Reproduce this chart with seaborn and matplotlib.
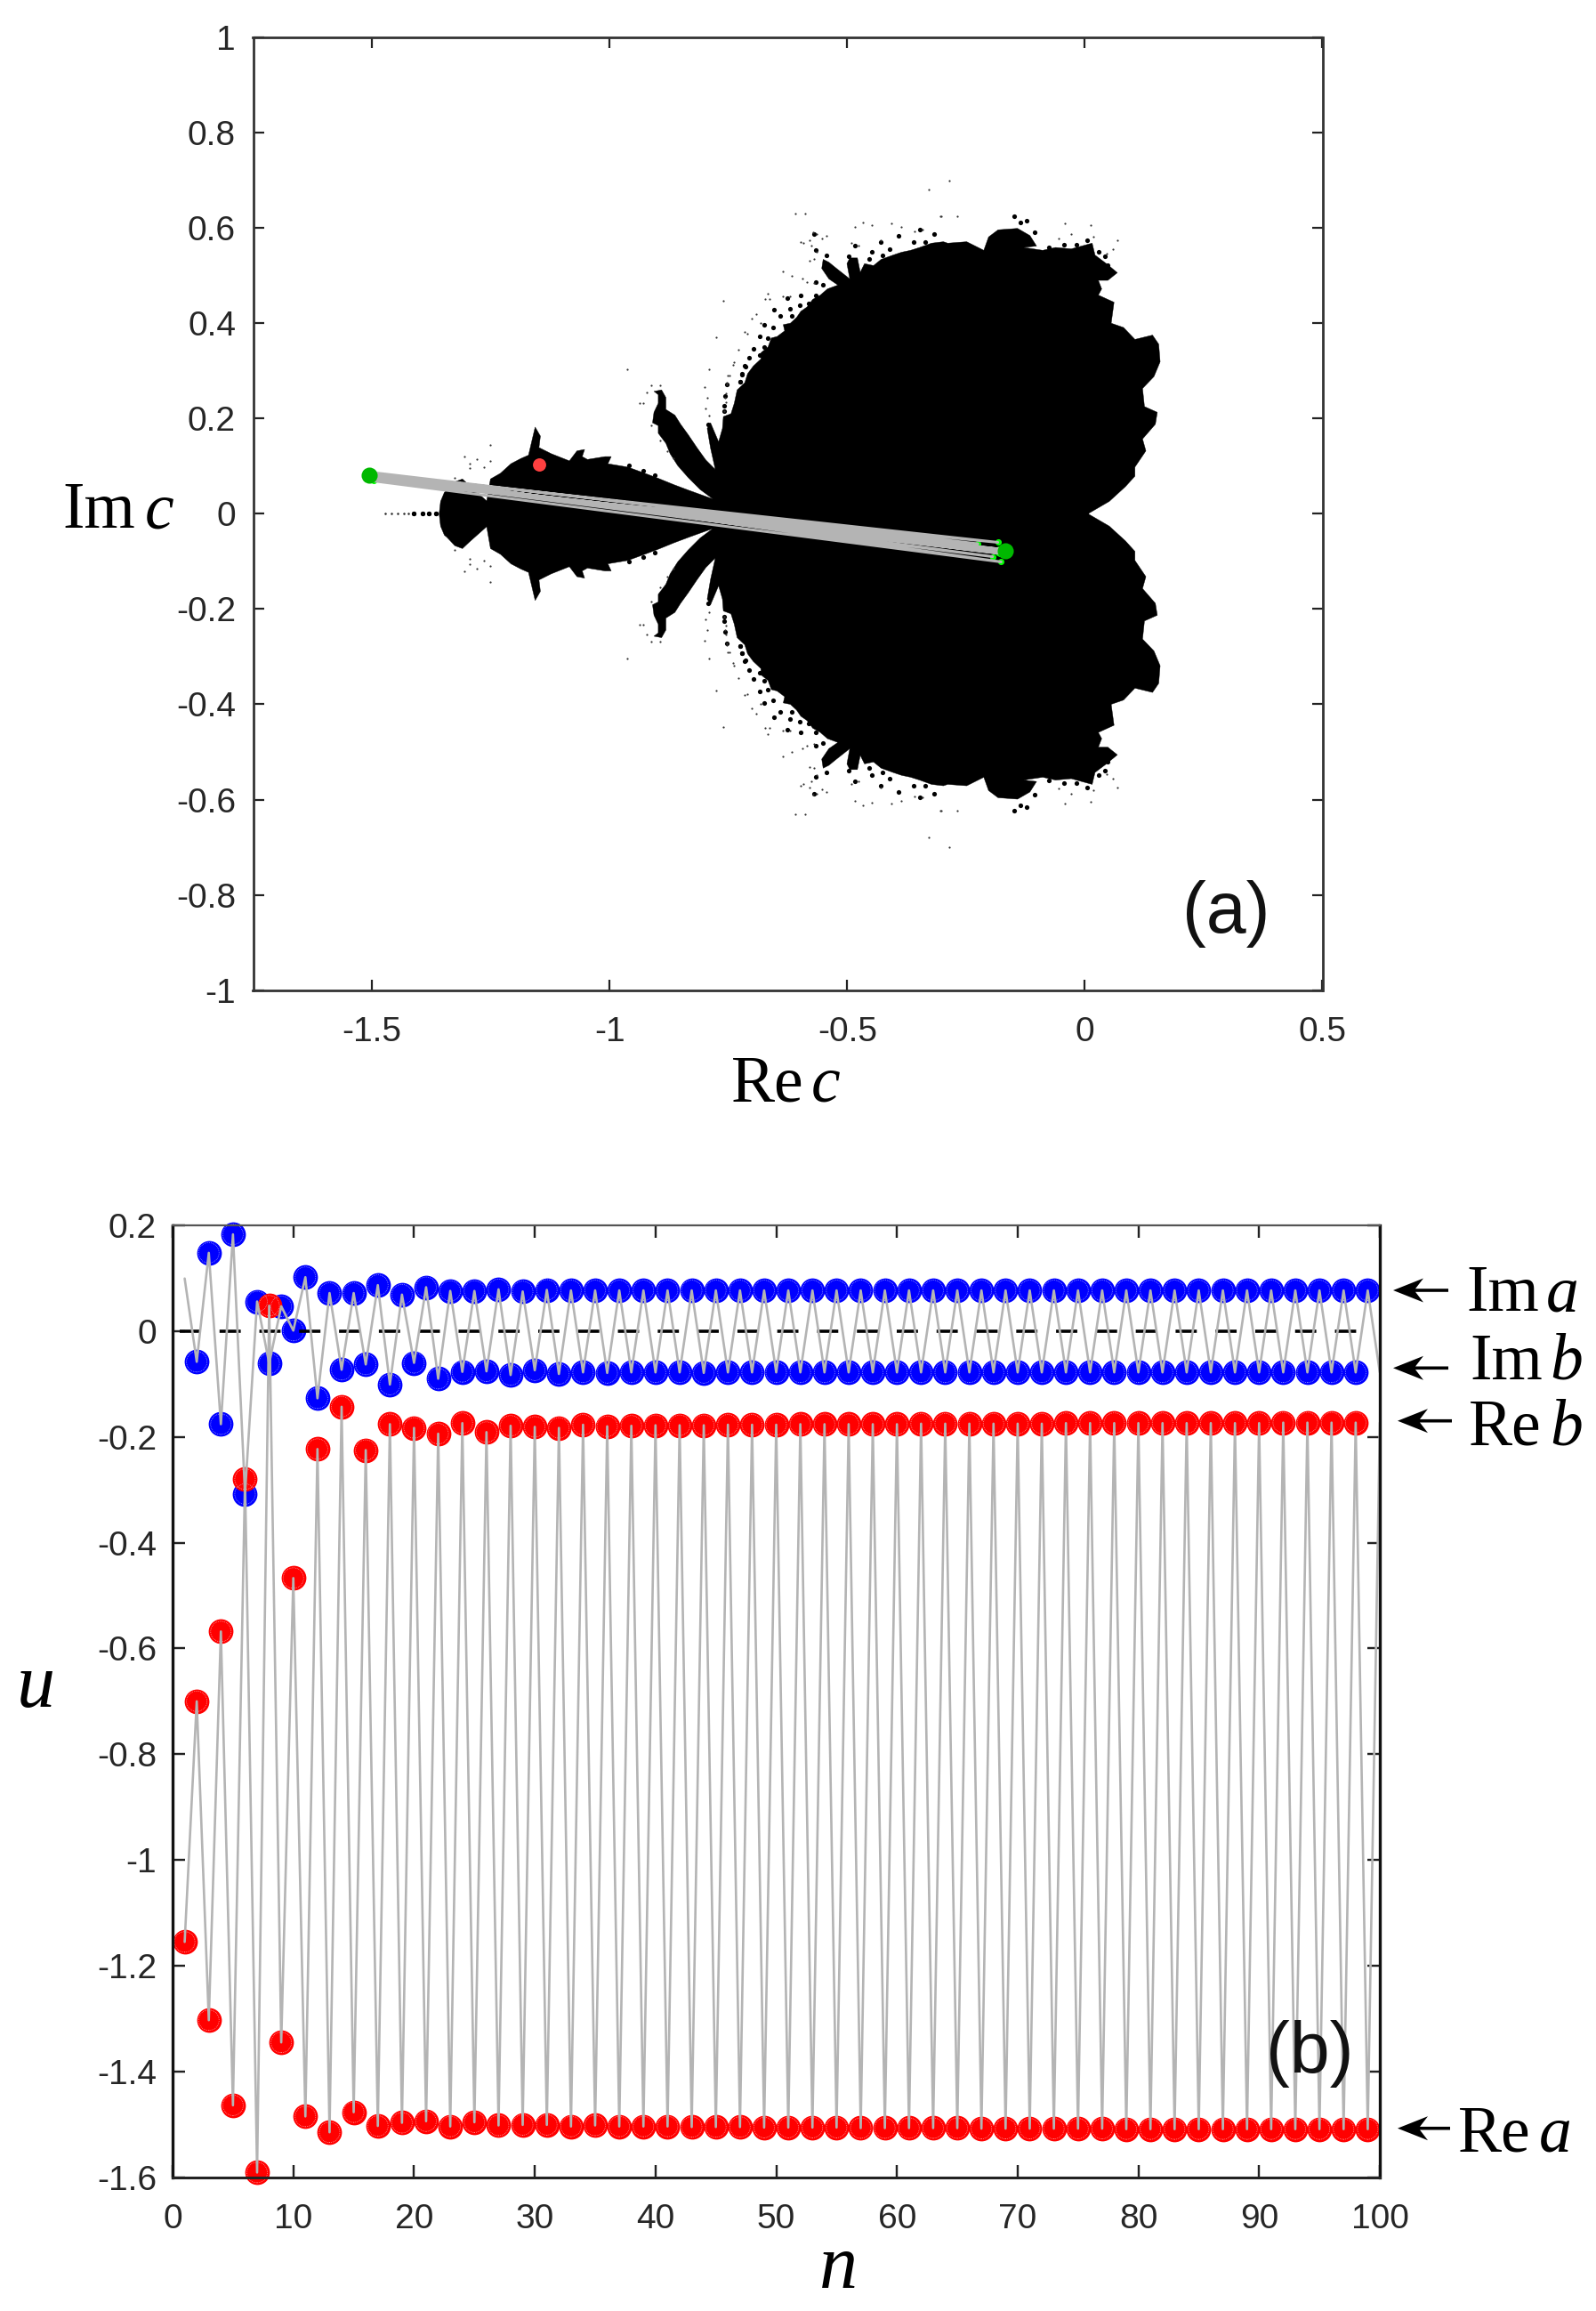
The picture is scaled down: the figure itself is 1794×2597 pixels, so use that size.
import numpy as np
import pandas as pd
import matplotlib
matplotlib.use('Agg')
import matplotlib.pyplot as plt
from matplotlib.patches import Polygon
import seaborn as sns

# --- upper half of the black set (mirrored below the axis)
outline_re = [-1.365, -1.362, -1.354, -1.349, -1.332, -1.316, -1.300, -1.265, -1.257, -1.236, -1.214, -1.193, -1.177,
              -1.169, -1.163, -1.152, -1.155, -1.129, -1.091, -1.075, -1.059, -1.064, -1.053, -1.016, -1.003, -1.010,
              -0.968, -0.935, -0.903, -0.871, -0.839, -0.789, -0.816, -0.841, -0.863, -0.879, -0.888, -0.904, -0.904,
              -0.916, -0.913, -0.904, -0.904, -0.913, -0.897, -0.888, -0.888, -0.869, -0.857, -0.841, -0.822, -0.804,
              -0.784, -0.794, -0.801, -0.794, -0.777, -0.769, -0.767, -0.751, -0.744, -0.738, -0.722, -0.716, -0.704,
              -0.688, -0.688, -0.673, -0.666, -0.654, -0.638, -0.641, -0.626, -0.613, -0.604, -0.591, -0.579, -0.563,
              -0.548, -0.526, -0.545, -0.560, -0.557, -0.545, -0.529, -0.501, -0.507, -0.501, -0.485, -0.479, -0.470,
              -0.451, -0.435, -0.410, -0.392, -0.373, -0.354, -0.329, -0.304, -0.295, -0.255, -0.219, -0.209,
              -0.189, -0.148, -0.122, -0.108, -0.135, -0.095, -0.068, -0.035, 0.009, 0.015, 0.039, 0.062, 0.042, 0.022,
              0.029, 0.022, 0.055, 0.049, 0.075, 0.099, 0.136, 0.149, 0.152, 0.139, 0.115, 0.119, 0.146, 0.142, 0.115,
              0.122, 0.099, 0.099, 0.079, 0.045, 0.002]
outline_im = [0.000, 0.026, 0.045, 0.049, 0.067, 0.073, 0.058, 0.027, 0.073, 0.085, 0.105, 0.116, 0.123,
              0.157, 0.182, 0.163, 0.139, 0.126, 0.111, 0.132, 0.135, 0.120, 0.114, 0.120, 0.120, 0.105,
              0.098, 0.086, 0.074, 0.061, 0.049, 0.031, 0.051, 0.076, 0.101, 0.126, 0.148, 0.169, 0.185,
              0.191, 0.213, 0.232, 0.250, 0.257, 0.260, 0.244, 0.219, 0.207, 0.188, 0.166, 0.138, 0.113,
              0.093, 0.138, 0.179, 0.191, 0.151, 0.179, 0.204, 0.210, 0.232, 0.260, 0.275, 0.294, 0.310,
              0.325, 0.338, 0.350, 0.369, 0.372, 0.384, 0.397, 0.400, 0.412, 0.425, 0.434, 0.450, 0.459,
              0.472, 0.480, 0.493, 0.515, 0.534, 0.528, 0.515, 0.493, 0.525, 0.537, 0.537, 0.507, 0.525,
              0.521, 0.534, 0.543, 0.549, 0.553, 0.559, 0.568, 0.571, 0.568, 0.571, 0.553, 0.581,
              0.596, 0.599, 0.584, 0.562, 0.559, 0.553, 0.559, 0.556, 0.568, 0.543, 0.525, 0.506, 0.490, 0.490,
              0.472, 0.459, 0.444, 0.400, 0.391, 0.366, 0.375, 0.356, 0.319, 0.288, 0.263, 0.225, 0.213, 0.188, 0.157,
              0.132, 0.098, 0.079, 0.057, 0.026, 0.001]

# specks close to the boundary
speck_re = [-0.398, -0.367, -0.342, -0.323, -0.417, -0.432, -0.460, -0.454, -0.435, -0.354, -0.648, -0.660, -0.626,
            -0.623, -0.607, -0.588, -0.573, -0.557, -0.573, -0.604, -0.632, -0.682, -0.663, -0.691, -0.673, -0.704,
            -0.682, -0.713, -0.691, -0.722, -0.727, -0.732, -0.760, -0.763, -0.765, -0.551, -0.491, -0.504, -0.573,
            -0.576, -0.966, -0.936, -0.911, -0.799, -0.732, -0.728, -0.721, -0.765, -0.155, -0.142, -0.128, -0.112,
            -0.082, -0.051, -0.025, -0.001, 0.022, 0.035, 0.042, -1.418, -1.400, -1.387, -1.372]
speck_im = [0.584, 0.571, 0.571, 0.587, 0.556, 0.543, 0.534, 0.549, 0.571, 0.596, 0.416, 0.428, 0.431,
            0.416, 0.437, 0.441, 0.459, 0.481, 0.487, 0.459, 0.453, 0.397, 0.391, 0.372, 0.369, 0.347,
            0.350, 0.328, 0.334, 0.310, 0.293, 0.277, 0.272, 0.247, 0.216, 0.543, 0.562, 0.540, 0.553,
            0.587, 0.101, 0.091, 0.081, 0.188, 0.278, 0.292, 0.308, 0.226, 0.624, 0.612, 0.615, 0.590,
            0.559, 0.565, 0.565, 0.574, 0.549, 0.540, 0.521, 0.0, 0.0, 0.0, 0.0]
# finer dust further out
dust_re = [-0.579, -0.570, -0.560, -0.551, -0.585, -0.598, -0.604, -0.582, -0.576, -0.585, -0.570, -0.616, -0.595,
           -0.473, -0.454, -0.491, -0.414, -0.392, -0.364, -0.348, -0.311, -0.498, -0.482, -0.435, -0.641, -0.623,
           -0.601, -0.591, -0.576, -0.641, -0.626, -0.673, -0.669, -0.679, -0.707, -0.698, -0.722, -0.716, -0.688,
           -0.735, -0.744, -0.747, -0.754, -0.760, -0.763, -0.782, -0.768,
           -0.935, -0.944, -0.928, -0.919, -0.900, -0.919, -0.900, -0.885, -0.872, -0.807, -0.804, -0.801, -0.797,
           -0.969, -0.797, -0.757, -0.760, -0.761, -0.761, -0.765,
           -0.048, 0.005, -0.061, -0.035, 0.012, 0.039, 0.062, 0.052, -0.335, -0.292, -0.275, -0.309,
           -1.311, -1.300, -1.285, -1.270, -1.257, -1.332, -1.257, -1.300, -1.478, -1.465, -1.452, -1.440, -1.430]
dust_im = [0.590, 0.587, 0.578, 0.584, 0.575, 0.568, 0.571, 0.562, 0.534, 0.531, 0.549, 0.631, 0.631,
           0.612, 0.606, 0.603, 0.609, 0.603, 0.593, 0.596, 0.624, 0.568, 0.562, 0.574, 0.509, 0.500,
           0.493, 0.487, 0.484, 0.456, 0.456, 0.462, 0.450, 0.450, 0.409, 0.419, 0.381, 0.378, 0.400,
           0.344, 0.319, 0.313, 0.291, 0.276, 0.244, 0.371, 0.447,
           0.232, 0.232, 0.254, 0.269, 0.269, 0.185, 0.154, 0.132, 0.116, 0.266, 0.222, 0.244, 0.207,
           0.303, 0.303, 0.291, 0.272, 0.253, 0.235, 0.216,
           0.609, 0.605, 0.577, 0.587, 0.581, 0.546, 0.574, 0.556, 0.680, 0.699, 0.624, 0.624,
           0.120, 0.105, 0.115, 0.098, 0.110, 0.076, 0.144, 0.095, 0.0, 0.0, 0.0, 0.0, 0.0]

c_point = [-1.149, 0.103]
cycle_re = [-1.505, -0.167]
cycle_im = [0.081, -0.078]

# --- Re and Im of the orbit, n = 1 .. 100
re_vals = [-1.155, -0.700, -1.303, -0.568, -1.464, -0.280, -1.591, 0.048, -1.345, -0.467,
           -1.485, -0.223, -1.515, -0.143, -1.477, -0.225, -1.503, -0.176, -1.497, -0.183,
           -1.494, -0.194, -1.504, -0.174, -1.496, -0.191, -1.502, -0.179, -1.501, -0.181,
           -1.501, -0.183, -1.504, -0.177, -1.502, -0.180, -1.504, -0.179, -1.504, -0.178,
           -1.504, -0.178, -1.505, -0.178, -1.505, -0.177, -1.505, -0.177, -1.506, -0.177,
           -1.506, -0.176, -1.506, -0.176, -1.506, -0.176, -1.507, -0.176, -1.507, -0.176,
           -1.507, -0.175, -1.507, -0.175, -1.507, -0.175, -1.508, -0.175, -1.508, -0.175,
           -1.508, -0.175, -1.508, -0.174, -1.508, -0.174, -1.508, -0.174, -1.509, -0.174,
           -1.509, -0.174, -1.509, -0.174, -1.509, -0.174, -1.509, -0.174, -1.509, -0.174,
           -1.509, -0.173, -1.509, -0.173, -1.509, -0.173, -1.509, -0.173, -1.509, -0.173]
im_vals = [0.0995, -0.058, 0.148, -0.176, 0.183, -0.308, 0.056, -0.061, 0.047, 0.001,
           0.102, -0.127, 0.072, -0.073, 0.072, -0.063, 0.087, -0.101, 0.069, -0.060,
           0.083, -0.090, 0.076, -0.077, 0.076, -0.076, 0.079, -0.083, 0.075, -0.074,
           0.078, -0.081, 0.077, -0.078, 0.077, -0.079, 0.077, -0.078, 0.077, -0.078,
           0.077, -0.078, 0.077, -0.079, 0.077, -0.078, 0.077, -0.078, 0.077, -0.078,
           0.077, -0.078, 0.077, -0.078, 0.077, -0.078, 0.077, -0.078, 0.077, -0.078,
           0.077, -0.078, 0.077, -0.078, 0.077, -0.078, 0.077, -0.078, 0.077, -0.078,
           0.077, -0.078, 0.077, -0.078, 0.077, -0.078, 0.077, -0.078, 0.077, -0.078,
           0.077, -0.078, 0.077, -0.078, 0.077, -0.078, 0.077, -0.078, 0.077, -0.078,
           0.077, -0.078, 0.077, -0.078, 0.077, -0.078, 0.077, -0.078, 0.077, -0.078]
n_vals = list(range(1, 101))

xticks_a = [-1.5, -1, -0.5, 0, 0.5]
xlabels_a = ['-1.5', '-1', '-0.5', '0', '0.5']
yticks_a = [-1, -0.8, -0.6, -0.4, -0.2, 0, 0.2, 0.4, 0.6, 0.8, 1]
ylabels_a = ['-1', '-0.8', '-0.6', '-0.4', '-0.2', '0', '0.2', '0.4', '0.6', '0.8', '1']
xticks_b = [0, 10, 20, 30, 40, 50, 60, 70, 80, 90, 100]
xlabels_b = ['0', '10', '20', '30', '40', '50', '60', '70', '80', '90', '100']
yticks_b = [-1.6, -1.4, -1.2, -1, -0.8, -0.6, -0.4, -0.2, 0, 0.2]
ylabels_b = ['-1.6', '-1.4', '-1.2', '-1', '-0.8', '-0.6', '-0.4', '-0.2', '0', '0.2']

W, H = 1794, 2597
GRAY = '#b4b4b4'
SANS = 'Liberation Sans'
SERIF = 'Liberation Serif'

sns.set_theme(style='white')
plt.rcParams['font.family'] = [SANS, 'DejaVu Sans']
plt.rcParams['axes.unicode_minus'] = False

fig = plt.figure(figsize=(W / 100, H / 100), dpi=100, facecolor='white')


def axes_px(left, top, right, bottom):
    return fig.add_axes([left / W, 1 - bottom / H, (right - left) / W, (bottom - top) / H])


def text_px(x, y, s, size=53, style='normal', family=SERIF, color='black'):
    fig.text(x / W, 1 - y / H, s, fontsize=size, style=style, family=family, color=color, ha='left', va='baseline')


def arrow_px(tip, tail, y):
    # line plus barbed head, pointing left
    pts = [(tip, y), (tip + 34, y - 13.5), (tip + 25, y - 1.8), (tail, y - 1.8),
           (tail, y + 1.8), (tip + 25, y + 1.8), (tip + 34, y + 13.5)]
    pts = [(px / W, 1 - py / H) for px, py in pts]
    fig.add_artist(Polygon(pts, closed=True, transform=fig.transFigure, facecolor='black', edgecolor='none'))


def style_axes(ax, ticklen, tickw, pad_x, pad_y):
    ax.tick_params(axis='both', which='major', direction='in', length=ticklen * 0.72, width=tickw * 0.72,
                   top=True, right=True, bottom=True, left=True, labelsize=28, labelcolor='#262626', color='#222222')
    ax.tick_params(axis='x', pad=pad_x)
    ax.tick_params(axis='y', pad=pad_y)
    ax.grid(False)


# --- panel (a)
ax_a = axes_px(284.5, 42, 1486.5, 1112.7)
set_re = np.array(outline_re) + 0.0065
set_im = np.array(outline_im)
ax_a.fill(np.r_[set_re, set_re[::-1]], np.r_[set_im, -set_im[::-1]], color='black', linewidth=0.3, zorder=1)

specks = pd.DataFrame({'re': np.r_[speck_re, speck_re] + 0.0065, 'im': np.r_[speck_im, -np.array(speck_im)]})
dust = pd.DataFrame({'re': np.r_[dust_re, dust_re] + 0.0065, 'im': np.r_[dust_im, -np.array(dust_im)]})
sns.scatterplot(data=specks, x='re', y='im', color='black', s=14, linewidth=0, ax=ax_a, zorder=1)
sns.scatterplot(data=dust, x='re', y='im', color='#333333', s=2.5, linewidth=0, ax=ax_a, zorder=1)

orbit = pd.DataFrame({'n': n_vals, 're': re_vals, 'im': im_vals})
tail = orbit[orbit['n'] >= 15]
sns.scatterplot(data=tail, x='re', y='im', color='#00ff00', s=26, linewidth=0, ax=ax_a, zorder=2)
sns.lineplot(data=tail, x='re', y='im', sort=False, estimator=None, color=GRAY, linewidth=2.2, ax=ax_a, zorder=3)
sns.scatterplot(x=cycle_re, y=cycle_im, color='#00b800', s=170, linewidth=0, ax=ax_a, zorder=4)
sns.scatterplot(x=[c_point[0]], y=[c_point[1]], color='#ff4040', s=115, linewidth=0, ax=ax_a, zorder=4)

ax_a.set_xlim(-1.75, 0.5)
ax_a.set_ylim(-1, 1)
ax_a.set_xticks(xticks_a, xlabels_a)
ax_a.set_yticks(yticks_a, ylabels_a)
ax_a.set_xlabel('')
ax_a.set_ylabel('')
style_axes(ax_a, 12, 2.2, 21, 14)
for side in ax_a.spines:
    ax_a.spines[side].set_color('#333333')
    ax_a.spines[side].set_linewidth(2.0)

# --- panel (b)
ax_b = axes_px(194, 1377, 1551, 2446.7)
blue_pts = orbit.iloc[1:99]
red_pts = orbit.iloc[0:99]
sns.scatterplot(data=blue_pts, x='n', y='im', color='#0000ff', s=400, linewidth=0, ax=ax_b, clip_on=False, zorder=1)
sns.scatterplot(data=red_pts, x='n', y='re', color='#ff0000', s=400, linewidth=0, ax=ax_b, clip_on=False, zorder=1.1)
# thin dotted ring inside each marker
ax_b.scatter(blue_pts['n'], blue_pts['im'], s=275, facecolors='none', edgecolors='#cfd0ff', linewidths=0.5,
             linestyles=':', clip_on=False, zorder=1.2)
ax_b.scatter(red_pts['n'], red_pts['re'], s=275, facecolors='none', edgecolors='#ffd0d0', linewidths=0.5,
             linestyles=':', clip_on=False, zorder=1.2)

ax_b.plot([0.57, 98.3], [0, 0], color='black', linewidth=2.6, linestyle=(0, (6.6, 5.8)), dash_capstyle='butt', zorder=2)
sns.lineplot(data=orbit, x='n', y='im', sort=False, estimator=None, color=GRAY, linewidth=1.9, ax=ax_b, zorder=2.1)
sns.lineplot(data=orbit, x='n', y='re', sort=False, estimator=None, color=GRAY, linewidth=1.9, ax=ax_b, zorder=2.1)

ax_b.set_xlim(0, 100)
ax_b.set_ylim(-1.6, 0.2)
ax_b.set_xticks(xticks_b, xlabels_b)
ax_b.set_yticks(yticks_b, ylabels_b)
ax_b.set_xlabel('')
ax_b.set_ylabel('')
style_axes(ax_b, 14, 2.4, 21, 13)
for tick in ax_b.yaxis.get_major_ticks():
    if tick.get_loc() == 0:
        tick.tick2line.set_visible(False)
ax_b.spines['left'].set_color('#111111')
ax_b.spines['right'].set_color('#111111')
ax_b.spines['bottom'].set_color('#222222')
ax_b.spines['top'].set_color('#555555')
ax_b.spines['left'].set_linewidth(2.4)
ax_b.spines['right'].set_linewidth(2.4)
ax_b.spines['bottom'].set_linewidth(2.2)
ax_b.spines['top'].set_linewidth(1.6)

# --- axis names, built from upright and italic pieces
text_px(70, 593, 'Im')
text_px(163, 593, 'c', style='italic')
text_px(822, 1238, 'Re')
text_px(912, 1238, 'c', style='italic')
text_px(921, 2571, 'n', size=62, style='italic')
text_px(19, 1918, 'u', size=62, style='italic')

text_px(1329, 1048, '(a)', size=58, family=SANS, color='#111111')
text_px(1423, 2329, '(b)', size=58, family=SANS, color='#111111')

text_px(1648, 1473, 'Im')
text_px(1738, 1473, 'a', style='italic')
text_px(1652, 1550, 'Im')
text_px(1742, 1550, 'b', style='italic')
text_px(1651, 1623, 'Re')
text_px(1742, 1623, 'b', style='italic')
text_px(1639, 2418, 'Re')
text_px(1730, 2418, 'a', style='italic')

arrow_px(1566, 1628, 1450)
arrow_px(1566, 1628, 1537.3)
arrow_px(1571, 1632, 1596.7)
arrow_px(1571, 1630, 2391.7)

fig.savefig('out.png', dpi=100)
